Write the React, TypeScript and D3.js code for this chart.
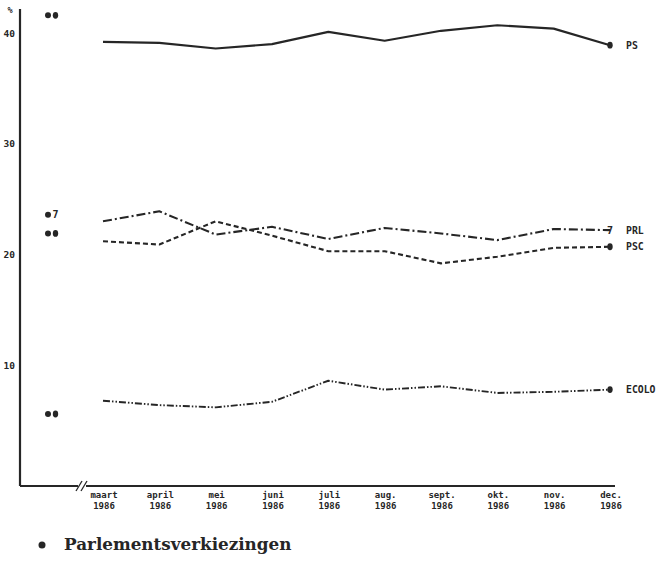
import React from 'react';
import * as d3 from 'd3';

const months = ['maart', 'april', 'mei', 'juni', 'juli', 'aug.', 'sept.', 'okt.', 'nov.', 'dec.'];
const year = '1986';

const psValues = [39.2, 39.1, 38.6, 39.0, 40.1, 39.3, 40.2, 40.7, 40.4, 38.9];
const prlValues = [23.0, 23.9, 21.8, 22.5, 21.4, 22.4, 21.9, 21.3, 22.3, 22.2];
const pscValues = [21.2, 20.9, 23.0, 21.7, 20.3, 20.3, 19.2, 19.8, 20.6, 20.7];
const ecoloValues = [6.8, 6.4, 6.2, 6.7, 8.6, 7.8, 8.1, 7.5, 7.6, 7.8];

const parties = ['PS', 'PRL', 'PSC', 'ECOLO'];
const electionValues = [41.6, 23.6, 21.9, 5.6];
const endGlyphs = ['dot', '7', 'dot', 'dot'];
const yTicks = [10, 20, 30, 40];

const ink = '#262626';
const mono = '"DejaVu Sans Mono", monospace';

const App: React.FC = () => {
  const width = 659;
  const height = 563;

  const x = d3.scalePoint<string>().domain(months).range([103, 610]);
  const y = d3.scaleLinear().domain([0, 40]).range([476, 33]);
  const axisY = y(0) + 10;
  const axisX = 20;

  const series = [psValues, prlValues, pscValues, ecoloValues];
  const styles = [
    { dash: 'none', w: 2.2 },
    { dash: '9,3,2,3', w: 2.1 },
    { dash: '5,3', w: 2.1 },
    { dash: '7,2,1.5,2,1.5,2', w: 1.9 },
  ];

  const line = d3
    .line<number>()
    .x((_, i) => x(months[i]) as number)
    .y(d => y(d));

  const marker = (kind: string, cx: number, cy: number, key: string) =>
    kind === 'dot' ? (
      <ellipse key={key} cx={cx} cy={cy} rx={2.7} ry={3.4} fill={ink} />
    ) : (
      <text key={key} x={cx} y={cy + 3.5} textAnchor="middle" fontFamily={mono} fontWeight="bold" fontSize={10} fill={ink}>
        {kind}
      </text>
    );

  return (
    <svg width={width} height={height} style={{ position: 'absolute', left: 0, top: 0, background: '#fff' }}>
      <rect width={width} height={height} fill="#fff" />

      {/* Axes */}
      <line x1={axisX} x2={axisX} y1={9} y2={axisY} stroke={ink} strokeWidth={2.2} />
      <line x1={axisX} x2={78} y1={axisY} y2={axisY} stroke={ink} strokeWidth={2} />
      <line x1={86} x2={615} y1={axisY} y2={axisY} stroke={ink} strokeWidth={2} />
      <line x1={76} x2={82} y1={axisY + 5} y2={axisY - 5} stroke={ink} strokeWidth={1.3} />
      <line x1={81} x2={87} y1={axisY + 5} y2={axisY - 5} stroke={ink} strokeWidth={1.3} />

      <text x={10} y={13} textAnchor="middle" fontFamily={mono} fontWeight="bold" fontSize={8.5} fill={ink}>
        %
      </text>
      {yTicks.map(t => (
        <text key={t} x={15} y={y(t) + 3.5} textAnchor="end" fontFamily={mono} fontWeight="bold" fontSize={9.5} fill={ink}>
          {t}
        </text>
      ))}

      {months.map(m => (
        <g key={m} fontFamily={mono} fontWeight="bold" fontSize={9} fill={ink} textAnchor="middle">
          <text x={(x(m) as number) + 1} y={axisY + 12}>{m}</text>
          <text x={(x(m) as number) + 1} y={axisY + 23}>{year}</text>
        </g>
      ))}

      {/* Series */}
      {series.map((vals, i) => (
        <path
          key={parties[i]}
          d={line(vals) || ''}
          fill="none"
          stroke={ink}
          strokeWidth={styles[i].w}
          strokeDasharray={styles[i].dash}
          strokeLinejoin="round"
        />
      ))}

      {/* End markers and labels */}
      {series.map((vals, i) => {
        const ex = x(months[months.length - 1]) as number;
        const ey = y(vals[vals.length - 1]);
        return (
          <g key={'end' + i}>
            {marker(endGlyphs[i], ex, ey, 'm' + i)}
            <text x={626} y={ey + 3.5} fontFamily={mono} fontWeight="bold" fontSize={9.8} fill={ink}>
              {parties[i]}
            </text>
          </g>
        );
      })}

      {/* Election results */}
      {electionValues.map((v, i) => (
        <g key={'el' + i}>
          <circle cx={48} cy={y(v)} r={3} fill={ink} />
          {marker(endGlyphs[i], 55.5, y(v), 'e' + i)}
        </g>
      ))}

      {/* Legend */}
      <circle cx={42} cy={545} r={3.5} fill={ink} />
      <text x={64} y={550} fontFamily='"DejaVu Serif", serif' fontWeight="bold" fontSize={16.8} fill={ink}>
        Parlementsverkiezingen
      </text>
    </svg>
  );
};

export default App;
